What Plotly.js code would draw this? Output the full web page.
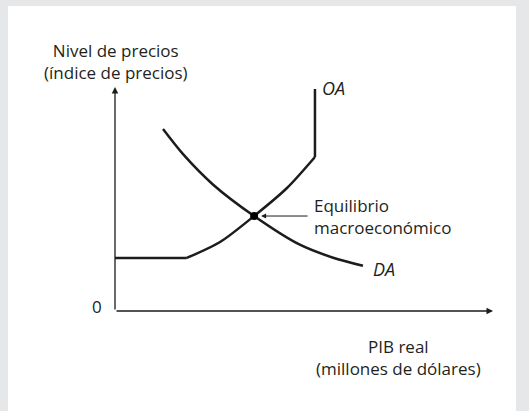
<!DOCTYPE html>
<html>
<head>
<meta charset="utf-8">
<script src="https://cdn.plot.ly/plotly-3.0.1.min.js"></script>
<style>
  html, body { margin: 0; padding: 0; background: #e6e7e8; width: 529px; height: 411px; overflow: hidden; }
  #chart { position: absolute; left: 8px; top: 6px; width: 508px; height: 405px; background: #ffffff; }
</style>
</head>
<body>
<div id="chart"></div>
<script>
// Aggregate supply (OA) curve: flat, rising, vertical
const oaX = [0, 1.90, 2.78, 3.68, 4.55, 5.29, 5.29];
const oaY = [2.37, 2.37, 3.08, 4.24, 5.49, 6.875, 9.91];
// Aggregate demand (DA) curve
const daX = [1.27, 1.80, 2.59, 3.68, 4.89, 5.77, 6.56];
const daY = [8.12, 7.00, 5.65, 4.24, 2.96, 2.38, 2.02];
// Equilibrium point
const eqX = [3.68];
const eqY = [4.24];
// Labels
const yTitle = "Nivel de precios<br>(índice de precios)";
const xTitle = "PIB real<br>(millones de dólares)";
const eqLabel = "Equilibrio<br>macroeconómico";
const oaLabel = "OA";
const daLabel = "DA";
const originLabel = "0";

const lineColor = "#1c1c1c";
const textColor = "#231f20";
const fontFam = "'Open Sans', 'DejaVu Sans', sans-serif";

const traces = [
  { x: oaX.slice(0, 2), y: oaY.slice(0, 2), mode: "lines", line: { color: lineColor, width: 2.5 }, hoverinfo: "skip" },
  { x: oaX.slice(1, 6), y: oaY.slice(1, 6), mode: "lines", line: { color: lineColor, width: 2.5, shape: "spline", smoothing: 0.8 }, hoverinfo: "skip" },
  { x: oaX.slice(5, 7), y: oaY.slice(5, 7), mode: "lines", line: { color: lineColor, width: 2.5 }, hoverinfo: "skip" },
  { x: daX, y: daY, mode: "lines", line: { color: lineColor, width: 2.5, shape: "spline", smoothing: 0.8 }, hoverinfo: "skip" },
  { x: eqX, y: eqY, mode: "markers", marker: { color: "#000", size: 8 }, hoverinfo: "skip" }
];

const layout = {
  width: 508, height: 405,
  margin: { l: 107, r: 23, t: 81, b: 100 },
  paper_bgcolor: "#ffffff", plot_bgcolor: "#ffffff",
  showlegend: false,
  font: { family: fontFam, size: 17, color: textColor },
  xaxis: { range: [0, 10], showgrid: false, zeroline: false, showline: false, showticklabels: false, ticks: "", fixedrange: true },
  yaxis: { range: [0, 10], showgrid: false, zeroline: false, showline: false, showticklabels: false, ticks: "", fixedrange: true },
  annotations: [
    // axes with arrowheads
    { x: 10, y: 0, ax: 0, ay: 0, xref: "x", yref: "y", axref: "x", ayref: "y", text: "", showarrow: true, arrowhead: 2, arrowsize: 1, arrowwidth: 1.3, arrowcolor: lineColor, standoff: 0, startstandoff: 0 },
    { x: 0, y: 10, ax: 0, ay: 0, xref: "x", yref: "y", axref: "x", ayref: "y", text: "", showarrow: true, arrowhead: 2, arrowsize: 1, arrowwidth: 1.3, arrowcolor: lineColor, standoff: 0, startstandoff: 0 },
    // equilibrium pointer
    { x: eqX[0], y: eqY[0], xref: "x", yref: "y", ax: 55, ay: 0, text: "", showarrow: true, arrowhead: 2, arrowsize: 1, arrowwidth: 1, arrowcolor: lineColor, standoff: 7 },
    { x: eqX[0], y: eqY[0], xref: "x", yref: "y", text: eqLabel, showarrow: false, xanchor: "left", yanchor: "middle", xshift: 58, yshift: 0, align: "left", font: { size: 17 } },
    // curve labels
    { x: oaX[6], y: oaY[6], xref: "x", yref: "y", text: "<i>" + oaLabel + "</i>", showarrow: false, xanchor: "left", yanchor: "middle", xshift: 5, yshift: 1, font: { size: 18 } },
    { x: daX[6], y: daY[6], xref: "x", yref: "y", text: "<i>" + daLabel + "</i>", showarrow: false, xanchor: "left", yanchor: "middle", xshift: 8, yshift: -3, font: { size: 18 } },
    // origin label
    { x: 0, y: 0, xref: "x", yref: "y", text: originLabel, showarrow: false, xanchor: "right", yanchor: "middle", xshift: -11, yshift: 5, font: { size: 17 } },
    // axis titles
    { x: 0, y: 10, xref: "x", yref: "y", text: yTitle, showarrow: false, xanchor: "center", yanchor: "bottom", xshift: 1, yshift: 1, font: { size: 17 } },
    { x: 7.5, y: 0, xref: "x", yref: "y", text: xTitle, showarrow: false, xanchor: "center", yanchor: "top", yshift: -22, font: { size: 17 } }
  ]
};

Plotly.newPlot("chart", traces, layout, { staticPlot: true, displayModeBar: false });
</script>
</body>
</html>
